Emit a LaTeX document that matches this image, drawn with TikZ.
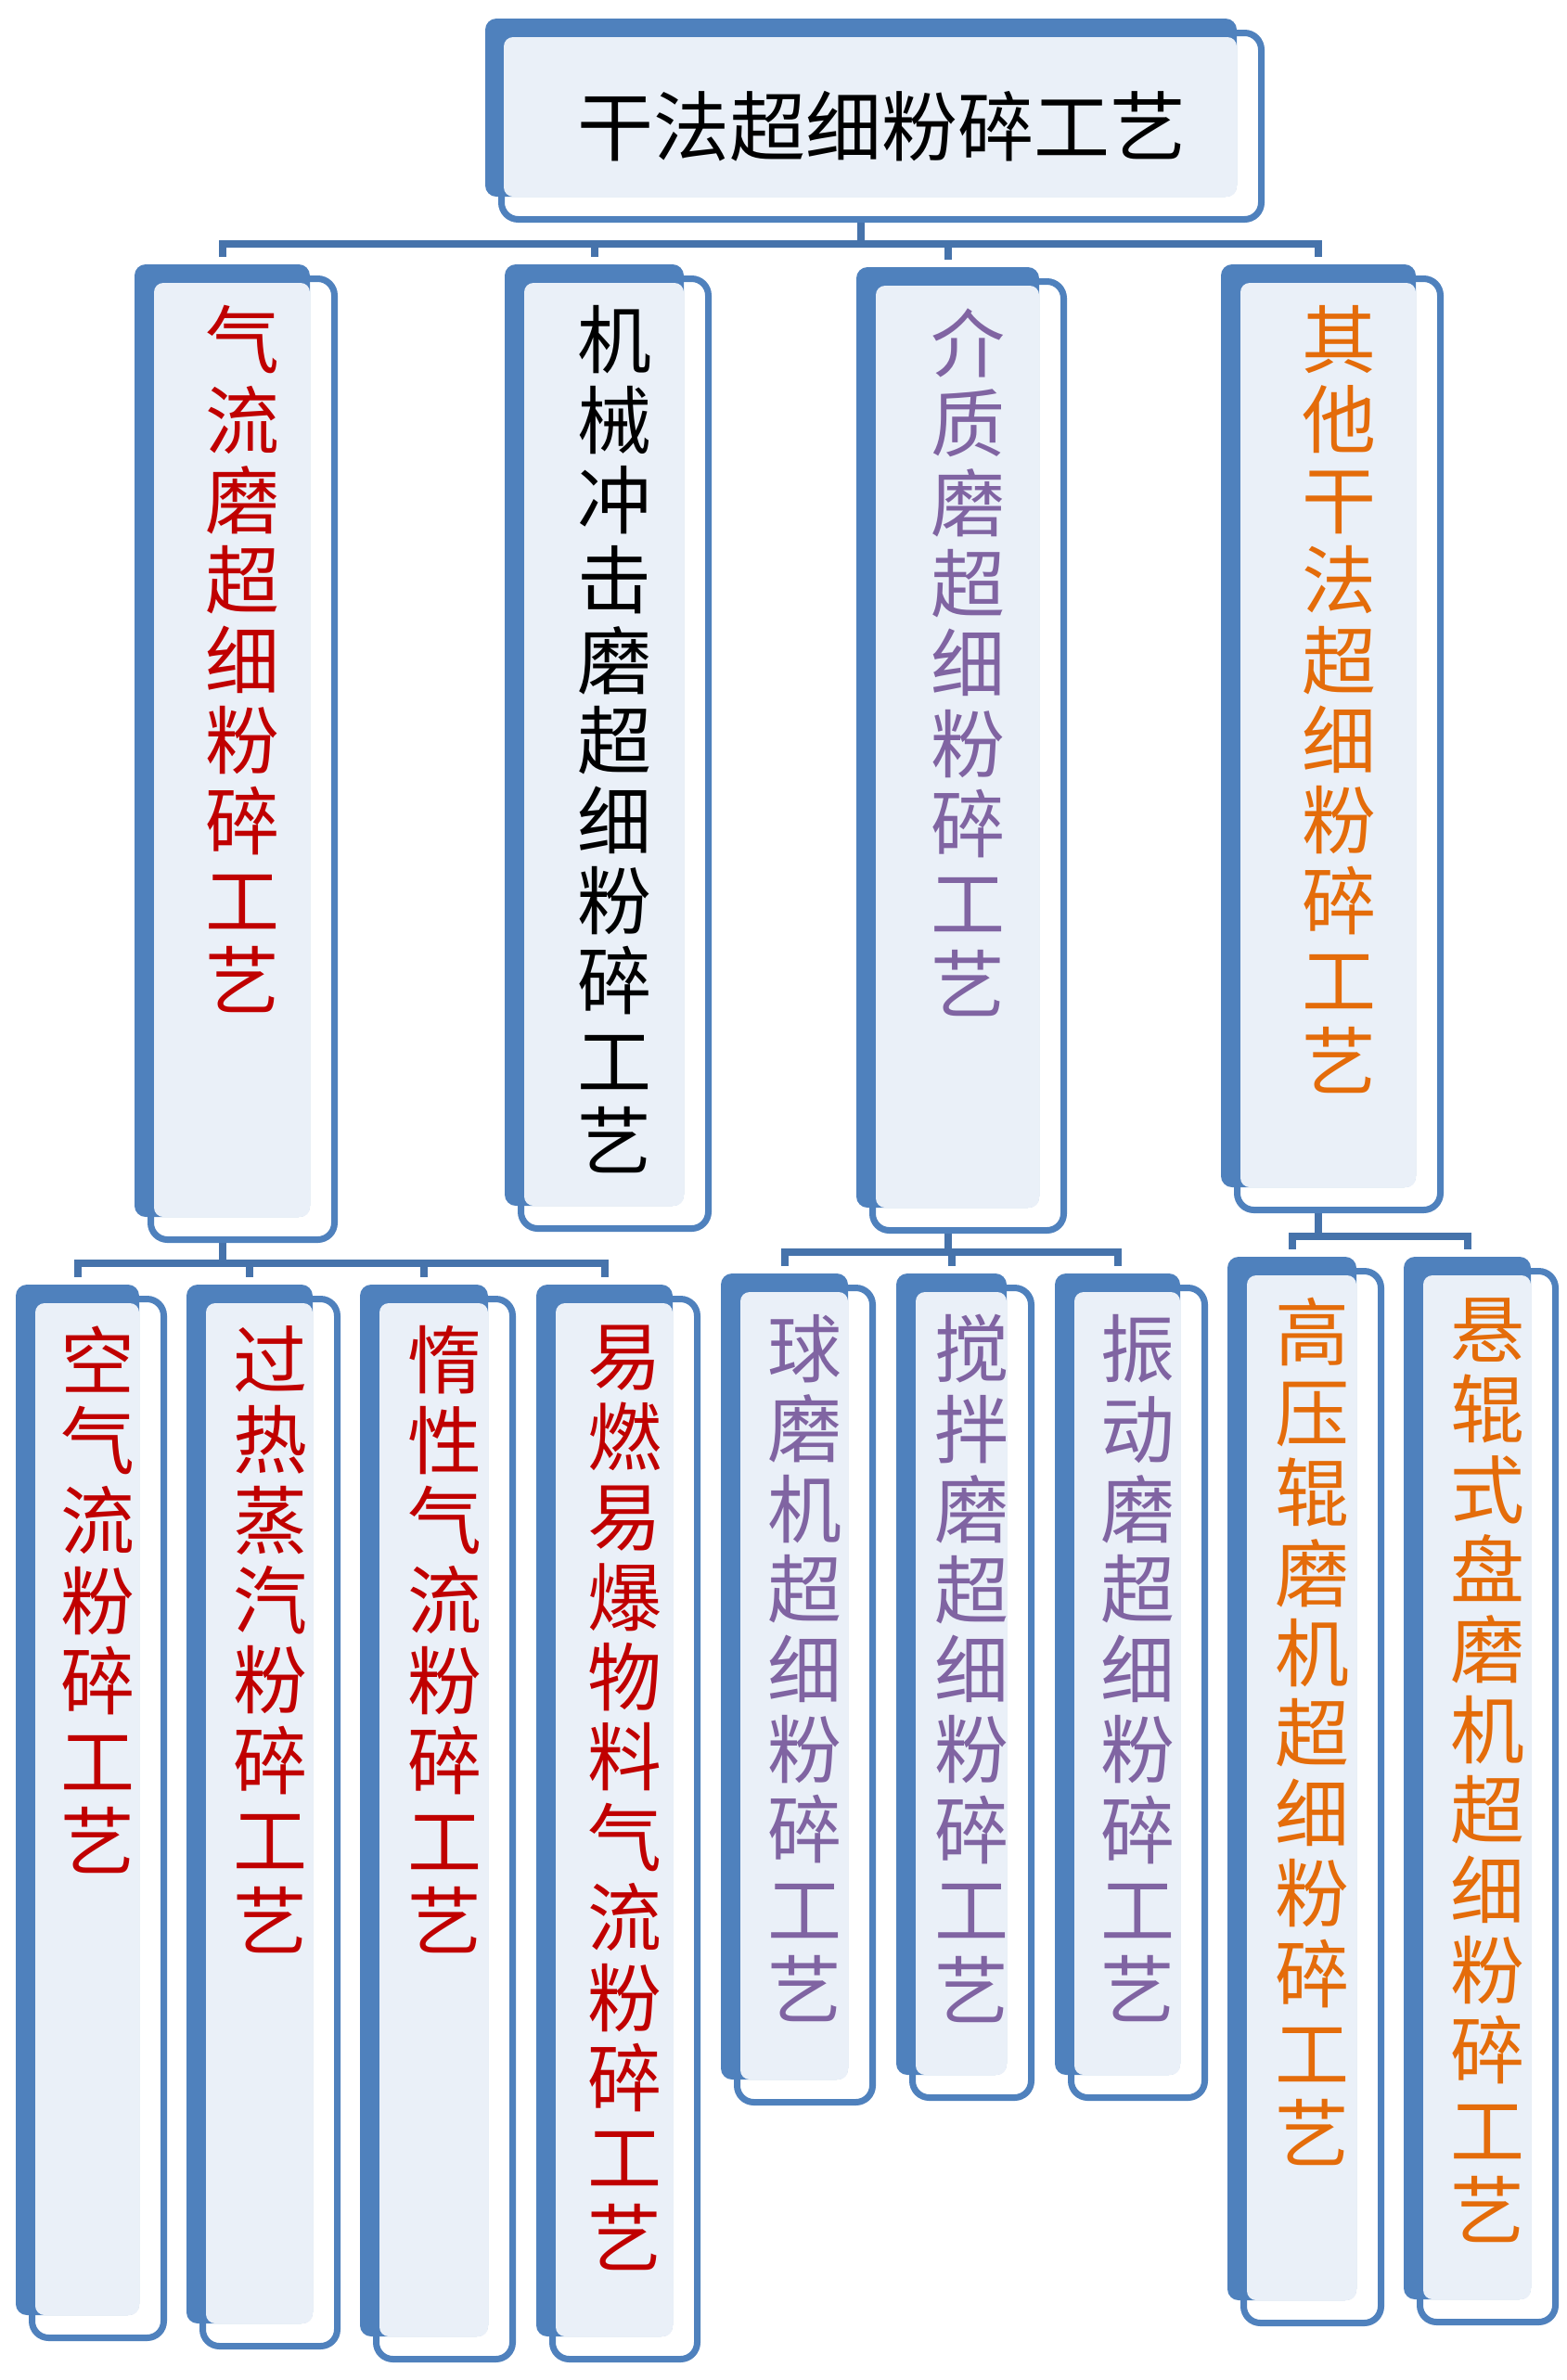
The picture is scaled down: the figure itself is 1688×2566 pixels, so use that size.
\documentclass[tikz,border=0pt]{standalone}
\usepackage{fontspec}
\newfontfamily\cjk{Noto Sans CJK SC}
\usepackage{tikz}
\usetikzlibrary{fit, backgrounds}
\definecolor{boxblue}{HTML}{4F81BD}
\definecolor{boxpale}{HTML}{EAF0F8}
\definecolor{linkblue}{HTML}{4673AB}
\definecolor{txtred}{HTML}{C00000}
\definecolor{txtpurple}{HTML}{8064A2}
\definecolor{txtorange}{HTML}{E46C0A}

% one character per line
\newcommand{\vtext}[1]{\vtextstep#1\relax}
\def\vtextstep#1#2{#1\ifx\relax#2\else\\\expandafter\vtextstep\expandafter#2\fi}

\begin{document}
\begin{tikzpicture}[x=0.5pt, y=-0.5pt,
        backbox/.style={fill=boxblue, rounded corners=6pt, inner sep=0pt},
        frontbox/.style={draw=boxblue, fill=white, line width=3.5pt, rounded corners=9pt, inner sep=0pt},
        vlabel/.style={anchor=north, align=center, inner sep=0pt, font=\cjk\fontsize{40}{43.2}\selectfont},
        link/.style={draw=linkblue, line width=4pt, shorten >=4pt}]
    \useasboundingbox (0,0) rectangle (1688,2566);
    % title
    \node[frontbox, fit={(540.5,35.5) (1359.5,236.5)}] (top-f) {};
    \node[backbox, fit={(523,20) (1333,212)}] (top) {};
    \fill[boxpale, rounded corners=5pt] (543,40) rectangle (1333,212);
    \node[font=\cjk\fontsize{41}{45}\selectfont] (title) at (top-f.center) {干法超细粉碎工艺};
    % process boxes: name/back x0/y0/x1/y1/colour/label
    \foreach \n/\xa/\ya/\xb/\yb/\col/\txt in {
            qiliu/145/285/334/1312/txtred/气流磨超细粉碎工艺,
            jixie/544/285/737/1300/black/机械冲击磨超细粉碎工艺,
            jiezhi/923/288/1120/1302/txtpurple/介质磨超细粉碎工艺,
            qita/1316/285/1526/1280/txtorange/其他干法超细粉碎工艺,
            kongqi/17/1385/150/2496/txtred/空气流粉碎工艺,
            guore/201/1385/337/2505/txtred/过热蒸汽粉碎工艺,
            duoxing/388/1385/526/2519/txtred/惰性气流粉碎工艺,
            yiran/578/1385/725/2519/txtred/易燃易爆物料气流粉碎工艺,
            qiumo/777/1373/914/2242/txtpurple/球磨机超细粉碎工艺,
            jiaoban/966/1373/1085/2237/txtpurple/搅拌磨超细粉碎工艺,
            zhendong/1137/1373/1272/2237/txtpurple/振动磨超细粉碎工艺,
            gaoya/1323/1355/1462/2480/txtorange/高压辊磨机超细粉碎工艺,
            xuangun/1513/1355/1650/2479/txtorange/悬辊式盘磨机超细粉碎工艺}{
        \node[frontbox, fit={(\xa+17.5,\ya+15.5) (\xb+26.5,\yb+24.5)}] (\n-f) {};
        \node[backbox, fit={(\xa,\ya) (\xb,\yb)}] (\n) {};
        \fill[boxpale, rounded corners=5pt] (\xa+21,\ya+20) rectangle (\xb,\yb);
        \node[vlabel, text=\col] (\n-t) at ([yshift=-16pt]\n-f.north) {\expandafter\vtext\expandafter{\txt}};
    }
    % connectors
    \begin{scope}[on background layer]
        \fill[white] (0,0) rectangle (1688,2566);
        \coordinate (bus-top) at (0,263);
        \coordinate (bus-qiliu) at (0,1362);
        \coordinate (bus-jiezhi) at (0,1350);
        \coordinate (bus-qita) at (0,1333);
        \foreach \c in {qiliu,jixie,jiezhi,qita}
            \draw[link] (top.center) -- (top.center |- bus-top) -| (\c.north);
        \foreach \c in {kongqi,guore,duoxing,yiran}
            \draw[link] (qiliu.center) -- (qiliu.center |- bus-qiliu) -| (\c.north);
        \foreach \c in {qiumo,jiaoban,zhendong}
            \draw[link] (jiezhi.center) -- (jiezhi.center |- bus-jiezhi) -| (\c.north);
        \foreach \c in {gaoya,xuangun}
            \draw[link] (qita.center) -- (qita.center |- bus-qita) -| (\c.north);
    \end{scope}
\end{tikzpicture}
\end{document}
